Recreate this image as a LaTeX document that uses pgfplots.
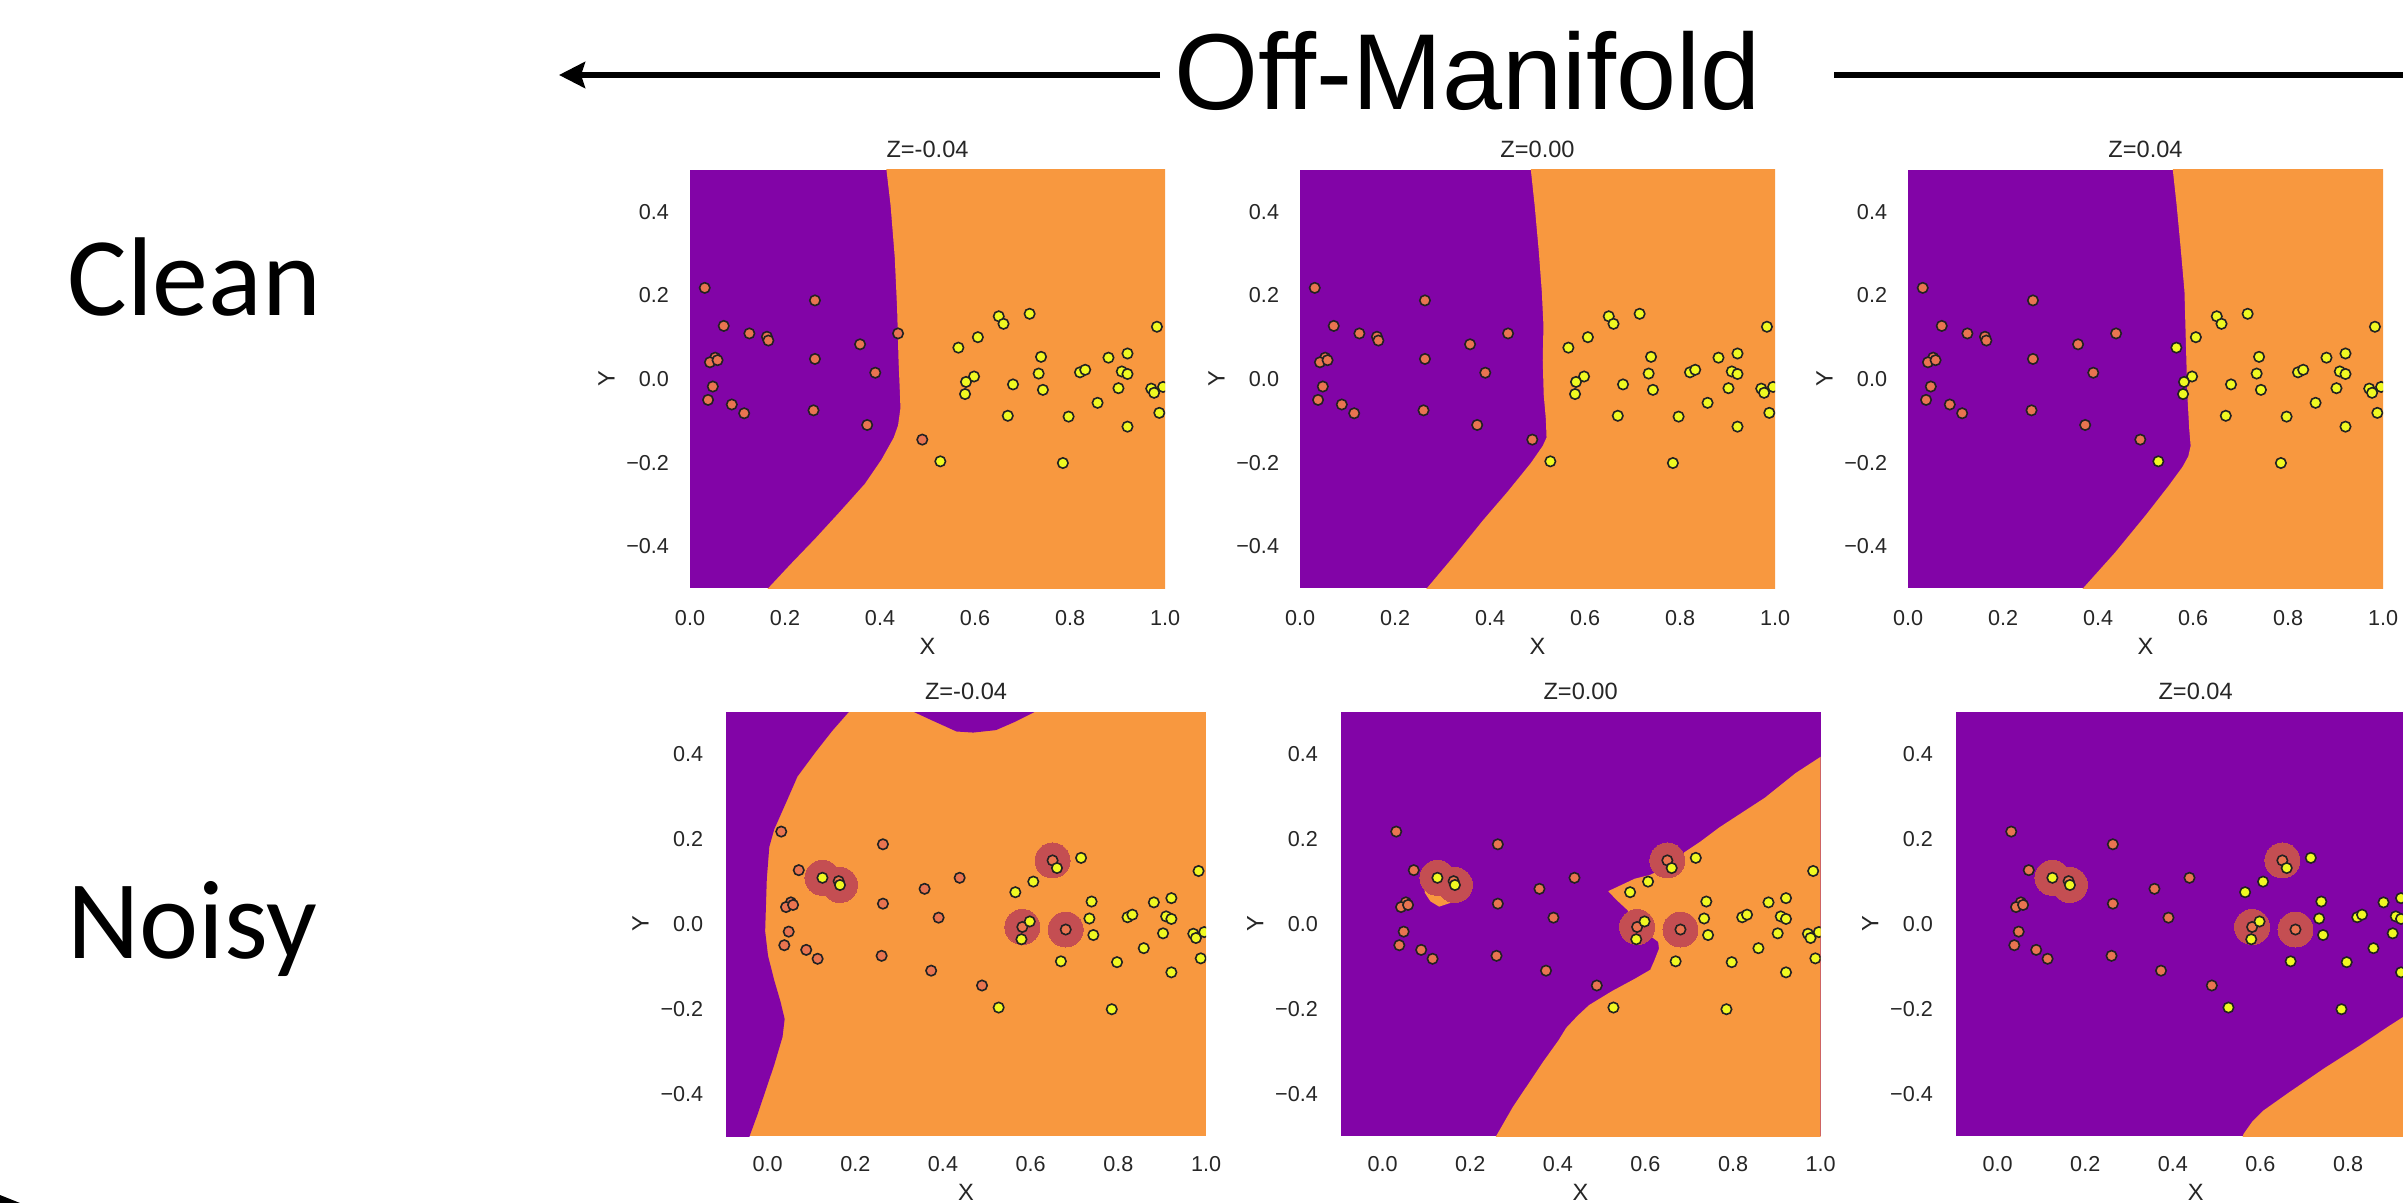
\documentclass[border=0pt]{standalone}
\usepackage{fontspec}
\setmainfont{Liberation Sans}
\newfontfamily\carlito{Carlito}
\usepackage{pgfplots}
\usepackage{pgfplotstable}
\pgfplotsset{compat=1.18}
\usetikzlibrary{arrows.meta}

\definecolor{purpleC}{RGB}{130,4,167}
\definecolor{orangeC}{RGB}{248,152,63}
\definecolor{redpt}{RGB}{233,116,80}
\definecolor{yellowpt}{RGB}{240,249,33}
\definecolor{circc}{RGB}{196,78,82}
\definecolor{edgec}{RGB}{34,34,34}
\definecolor{tickgray}{RGB}{38,38,38}

\newcommand{\tickfont}{\fontsize{10.8}{13}\selectfont}
\newcommand{\labfont}{\fontsize{11.8}{14}\selectfont}

\pgfplotstableread{
x y
0.031 0.218
0.071 0.127
0.125 0.109
0.162 0.101
0.165 0.092
0.263 0.188
0.358 0.083
0.438 0.109
0.053 0.051
0.042 0.040
0.058 0.045
0.263 0.048
0.390 0.015
0.048 -0.018
0.038 -0.050
0.088 -0.061
0.114 -0.082
0.260 -0.075
0.373 -0.110
0.489 -0.145
}\cleanred

\pgfplotstableread{
x y
0.565 0.075
0.606 0.100
0.650 0.150
0.660 0.132
0.715 0.156
0.983 0.125
0.739 0.053
0.921 0.061
0.881 0.051
0.734 0.013
0.598 0.006
0.581 -0.007
0.579 -0.036
0.680 -0.013
0.743 -0.026
0.821 0.016
0.832 0.022
0.909 0.018
0.921 0.012
0.902 -0.022
0.971 -0.023
0.977 -0.033
0.996 -0.019
0.858 -0.057
0.669 -0.088
0.797 -0.090
0.988 -0.081
0.921 -0.114
0.527 -0.197
0.785 -0.201
}\cleanyellow

\pgfplotstableread{
x y
0.031 0.218
0.071 0.127
0.162 0.101
0.263 0.188
0.358 0.083
0.438 0.109
0.053 0.051
0.042 0.040
0.058 0.045
0.263 0.048
0.390 0.015
0.048 -0.018
0.038 -0.050
0.088 -0.061
0.114 -0.082
0.260 -0.075
0.373 -0.110
0.489 -0.145
0.650 0.150
0.581 -0.007
0.680 -0.013
}\noisyred

\pgfplotstableread{
x y
0.125 0.109
0.165 0.092
0.565 0.075
0.606 0.100
0.660 0.132
0.715 0.156
0.983 0.125
0.739 0.053
0.921 0.061
0.881 0.051
0.734 0.013
0.598 0.006
0.579 -0.036
0.743 -0.026
0.821 0.016
0.832 0.022
0.909 0.018
0.921 0.012
0.902 -0.022
0.971 -0.023
0.977 -0.033
0.996 -0.019
0.858 -0.057
0.669 -0.088
0.797 -0.090
0.988 -0.081
0.921 -0.114
0.527 -0.197
0.785 -0.201
}\noisyyellow

\pgfplotstableread{
x y
0.125 0.109
0.165 0.092
0.650 0.150
0.581 -0.007
0.680 -0.013
}\flipped

\pgfplotsset{
  panel/.style={
    scale only axis, anchor=north west,
    ymin=-0.5, ymax=0.5,
    axis line style={draw=none}, tick style={draw=none},
    major tick length=0pt,
    xtick={0,0.2,0.4,0.6,0.8,1.0}, xticklabels={0.0,0.2,0.4,0.6,0.8,1.0},
    ytick={-0.4,-0.2,0,0.2,0.4}, yticklabels={−0.4,−0.2,0.0,0.2,0.4},
    ticklabel style={font=\tickfont, text=tickgray},
    xlabel={X}, ylabel={Y},
    clip marker paths=true,
    axis background/.style={fill=purpleC},
  },
  toprow/.style={
    panel, width=237.5pt, height=209pt, xmin=0, xmax=1,
    xticklabel style={anchor=center, inner sep=0pt, yshift=-15pt},
    yticklabel style={anchor=east, inner sep=0pt, xshift=-10.3pt},
    every axis title/.style={at={(axis description cs:0.5,1.0502)}, anchor=center, font=\labfont, text=tickgray},
    every axis x label/.style={at={(axis description cs:0.5,-0.1388)}, anchor=center, font=\labfont, text=tickgray},
    every axis y label/.style={at={(axis description cs:-0.1756,0.5)}, anchor=center, rotate=90, font=\labfont, text=tickgray},
  },
  botrow/.style={
    panel, width=240pt, height=212pt, xmin=-0.096, xmax=1,
    xticklabel style={anchor=center, inner sep=0pt, yshift=-14pt},
    yticklabel style={anchor=east, inner sep=0pt, xshift=-11.2pt},
    every axis title/.style={at={(axis description cs:0.5,1.048)}, anchor=center, font=\labfont, text=tickgray},
    every axis x label/.style={at={(axis description cs:0.5,-0.132)}, anchor=center, font=\labfont, text=tickgray},
    every axis y label/.style={at={(axis description cs:-0.178,0.5)}, anchor=center, rotate=90, font=\labfont, text=tickgray},
  },
  redpts/.style={only marks, color=edgec, mark=*, mark size=2.6pt, mark options={fill=redpt, draw=edgec, line width=0.8pt}},
  yelpts/.style={only marks, color=edgec, mark=*, mark size=2.6pt, mark options={fill=yellowpt, draw=edgec, line width=0.8pt}},
  bigc/.style={only marks, color=circc, mark=*, mark size=8.75pt, mark options={fill=circc, draw=circc, line width=0pt}},
}

\begin{document}
\begin{tikzpicture}
\useasboundingbox (0pt,0pt) rectangle (1201.5pt,-601.5pt);
\clip (0pt,0pt) rectangle (1201.5pt,-601.5pt);

% header
\draw[line width=3pt, -{Stealth[length=13pt,width=13pt,inset=2pt]}] (580pt,-37.5pt) -- (279.5pt,-37.5pt);
\draw[line width=3pt] (917pt,-37.5pt) -- (1210pt,-37.5pt);
\node[anchor=base west, inner sep=0pt, font=\fontsize{54}{60}\selectfont] at (587pt,-55pt) {Off-Manifold};

\node[anchor=base west, inner sep=0pt, font=\carlito\fontsize{56}{60}\selectfont] at (33.5pt,-158pt) {Clean};
\node[anchor=base west, inner sep=0pt, font=\carlito\fontsize{56}{60}\selectfont] at (33.5pt,-479pt) {Noisy};

\fill (0pt,-597.5pt) -- (10pt,-601.5pt) -- (0pt,-601.5pt) -- cycle;

% ---------- Clean row ----------
\begin{axis}[toprow, at={(345pt,-85pt)}, title={Z=-0.04}]
\addplot[fill=orangeC, draw=none] coordinates {(0.412,0.6) (0.4136,0.5) (0.4223,0.415) (0.431,0.292) (0.436,0.169) (0.439,0.045) (0.442,-0.037) (0.443,-0.070) (0.438,-0.111) (0.429,-0.140) (0.403,-0.193) (0.368,-0.251) (0.316,-0.317) (0.2635,-0.382) (0.211,-0.444) (0.165,-0.5) (0.083,-0.6) (1.1,-0.6) (1.1,0.6)} --cycle;
\addplot[redpts] table {\cleanred};
\addplot[yelpts] table {\cleanyellow};
\end{axis}

\begin{axis}[toprow, at={(650pt,-85pt)}, title={Z=0.00}]
\addplot[fill=orangeC, draw=none] coordinates {(0.484,0.6) (0.486,0.5) (0.494,0.415) (0.5025,0.308) (0.509,0.210) (0.5125,0.128) (0.511,0.045) (0.513,-0.037) (0.5175,-0.095) (0.519,-0.140) (0.511,-0.160) (0.486,-0.201) (0.436,-0.271) (0.386,-0.337) (0.3275,-0.419) (0.2675,-0.5) (0.193,-0.6) (1.1,-0.6) (1.1,0.6)} --cycle;
\addplot[redpts] table {\cleanred};
\addplot[yelpts] table {\cleanyellow};
\end{axis}

\begin{axis}[toprow, at={(954pt,-85pt)}, title={Z=0.04}]
\addplot[fill=orangeC, draw=none] coordinates {(0.555,0.6) (0.5575,0.5) (0.5656,0.415) (0.5737,0.317) (0.582,0.210) (0.584,0.127) (0.586,0.045) (0.588,-0.037) (0.592,-0.119) (0.595,-0.160) (0.590,-0.185) (0.578,-0.210) (0.549,-0.255) (0.501,-0.325) (0.436,-0.415) (0.369,-0.5) (0.29,-0.6) (1.1,-0.6) (1.1,0.6)} --cycle;
\addplot[redpts] table {\cleanred};
\addplot[yelpts] table {\cleanyellow};
\end{axis}

% ---------- Noisy row ----------
\begin{axis}[botrow, xmin=-0.095, at={(363pt,-356pt)}, title={Z=-0.04}, axis background/.style={fill=orangeC}]
\addplot[fill=purpleC, draw=none] coordinates {(-0.2,0.6) (0.185,0.6) (0.185,0.5) (0.1474,0.4556) (0.1096,0.4059) (0.068,0.3478) (0.0435,0.2898) (0.0151,0.2235) (0.0038,0.182) (-0.0019,0.107) (-0.0057,-0.017) (0.0009,-0.075) (0.0151,-0.133) (0.0293,-0.183) (0.0388,-0.224) (0.034,-0.266) (0.0151,-0.332) (-0.0038,-0.390) (-0.0227,-0.448) (-0.0397,-0.496) (-0.073,-0.6) (-0.2,-0.6)} --cycle;
\addplot[fill=purpleC, draw=none] coordinates {(0.3337,0.6) (0.3337,0.5) (0.3743,0.4805) (0.431,0.454) (0.4688,0.4515) (0.5208,0.4573) (0.5633,0.4764) (0.6087,0.5) (0.6087,0.6)} --cycle;
\addplot[bigc] table {\flipped};
\addplot[redpts] table {\noisyred};
\addplot[yelpts] table {\noisyyellow};
\end{axis}

\begin{axis}[botrow, at={(670.3pt,-356pt)}, title={Z=0.00}]
\addplot[fill=orangeC, draw=none] coordinates {(1.1,0.46) (0.9965,0.392) (0.943,0.356) (0.873,0.298) (0.812,0.257) (0.769,0.228) (0.725,0.194) (0.690,0.170) (0.651,0.136) (0.611,0.116) (0.576,0.107) (0.515,0.0775) (0.533,0.0577) (0.559,0.0328) (0.581,-0.005) (0.629,-0.042) (0.631,-0.058) (0.620,-0.087) (0.611,-0.108) (0.576,-0.129) (0.524,-0.158) (0.4716,-0.191) (0.4454,-0.216) (0.419,-0.245) (0.4017,-0.274) (0.367,-0.324) (0.332,-0.378) (0.297,-0.432) (0.262,-0.495) (0.204,-0.6) (1.1,-0.6)} --cycle;
\addplot[fill=orangeC, draw=none] coordinates {(0.1004,0.099) (0.096,0.074) (0.109,0.0535) (0.129,0.041) (0.166,0.0535) (0.175,0.074) (0.148,0.107)} --cycle;
\addplot[bigc] table {\flipped};
\addplot[redpts] table {\noisyred};
\addplot[yelpts] table {\noisyyellow};
\end{axis}

\begin{axis}[botrow, at={(977.8pt,-356pt)}, title={Z=0.04},
  xtick={0,0.2,0.4,0.6,0.8}, xticklabels={0.0,0.2,0.4,0.6,0.8}]
\addplot[fill=orangeC, draw=none] coordinates {(0.53,-0.6) (0.5615,-0.495) (0.582,-0.465) (0.6066,-0.440) (0.664,-0.398) (0.746,-0.340) (0.828,-0.286) (0.893,-0.241) (0.9246,-0.220) (1.0,-0.17) (1.1,-0.104) (1.1,-0.6)} --cycle;
\addplot[bigc] table {\flipped};
\addplot[redpts] table {\noisyred};
\addplot[yelpts] table {\noisyyellow};
\end{axis}
\end{tikzpicture}
\end{document}
